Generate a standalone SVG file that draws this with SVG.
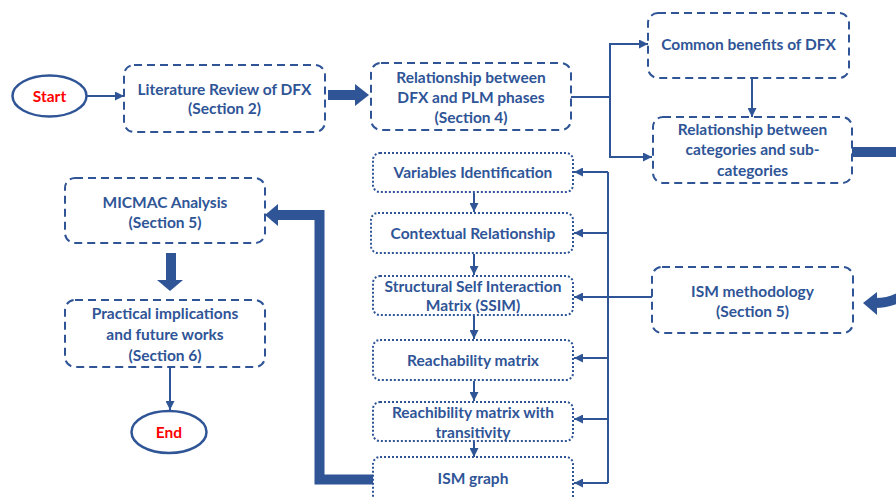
<svg xmlns="http://www.w3.org/2000/svg" width="896" height="497" viewBox="0 0 896 497">
<style>
.dash{fill:#fff;stroke:#2F5597;stroke-width:2;stroke-dasharray:8 5}
.dot{fill:#fff;stroke:#2F5597;stroke-width:2;stroke-dasharray:2 2}
.oval{fill:#fff;stroke:#2F5597;stroke-width:2.5}
.t{font-family:Lato,"Liberation Sans",sans-serif;font-weight:bold;font-size:15.5px;fill:#2F5597;text-anchor:middle}
.r{fill:#FF0000}
.ln{fill:none;stroke:#2F5597;stroke-width:2}
.thick{fill:none;stroke:#2F5597;stroke-width:10}
.head{fill:#2F5597}
</style>
<defs>
<marker id="ah" markerUnits="userSpaceOnUse" markerWidth="9" markerHeight="9" refX="9" refY="4.5" orient="auto">
<path d="M0,0 L9,4.5 L0,9 z" fill="#2F5597"/>
</marker>
</defs>

<g id="connectors">
<line class="ln" x1="87" y1="96" x2="124" y2="96" marker-end="url(#ah)"/>
<path class="thick" d="M328,95 H356"/>
<polygon class="head" points="369,95 355,84 355,106"/>
<path class="ln" d="M571,97 H610 M610,44 V157"/>
<line class="ln" x1="609" y1="44" x2="648" y2="44" marker-end="url(#ah)"/>
<line class="ln" x1="609" y1="157" x2="652" y2="157" marker-end="url(#ah)"/>
<line class="ln" x1="752" y1="78" x2="752" y2="117" marker-end="url(#ah)"/>
<path class="thick" d="M852,152 H896"/>
<path class="thick" d="M875,303 C884,303 891,302 900,297"/>
<polygon class="head" points="863,303 877,292 877,315"/>
<path class="ln" d="M652,297 H608 M608,172 V483"/>
<line class="ln" x1="608" y1="172" x2="574" y2="172" marker-end="url(#ah)"/>
<line class="ln" x1="608" y1="233" x2="574" y2="233" marker-end="url(#ah)"/>
<line class="ln" x1="608" y1="297" x2="574" y2="297" marker-end="url(#ah)"/>
<line class="ln" x1="608" y1="358" x2="574" y2="358" marker-end="url(#ah)"/>
<line class="ln" x1="608" y1="419" x2="574" y2="419" marker-end="url(#ah)"/>
<line class="ln" x1="608" y1="483" x2="574" y2="483" marker-end="url(#ah)"/>
<line class="ln" x1="474" y1="193" x2="474" y2="212" marker-end="url(#ah)"/>
<line class="ln" x1="474" y1="254" x2="474" y2="275" marker-end="url(#ah)"/>
<line class="ln" x1="474" y1="316" x2="474" y2="339" marker-end="url(#ah)"/>
<line class="ln" x1="474" y1="381" x2="474" y2="401" marker-end="url(#ah)"/>
<line class="ln" x1="474" y1="442" x2="474" y2="457" marker-end="url(#ah)"/>
<path class="thick" d="M373,479.5 H319.5 V215 H277" style="stroke-linejoin:miter"/>
<polygon class="head" points="265,215 278,204 278,226"/>
<path class="thick" d="M171,253 V281"/>
<polygon class="head" points="157,280 183,280 170,291"/>
<line class="ln" x1="170" y1="368" x2="170" y2="410" marker-end="url(#ah)"/>
</g>

<g id="start">
<ellipse class="oval" cx="49.5" cy="96" rx="37" ry="20.5"/>
<text class="t r" x="49.5" y="101.5">Start</text>
</g>

<g id="lit-review">
<rect class="dash" x="124" y="65" width="201" height="67" rx="10"/>
<text class="t" x="224.5" y="95">Literature Review of DFX</text>
<text class="t" x="224.5" y="114">(Section 2)</text>
</g>

<g id="dfx-plm">
<rect class="dash" x="371" y="63" width="200" height="67" rx="10"/>
<text class="t" x="471" y="83">Relationship between</text>
<text class="t" x="471" y="103">DFX and PLM phases</text>
<text class="t" x="471" y="123">(Section 4)</text>
</g>

<g id="common-benefits">
<rect class="dash" x="648" y="13" width="201" height="65" rx="10"/>
<text class="t" x="748.5" y="50">Common benefits of DFX</text>
</g>

<g id="categories">
<rect class="dash" x="653" y="117" width="199" height="66" rx="10"/>
<text class="t" x="752.5" y="135">Relationship between</text>
<text class="t" x="752.5" y="155">categories and sub-</text>
<text class="t" x="752.5" y="176">categories</text>
</g>

<g id="ism-methodology">
<rect class="dash" x="652" y="267" width="201" height="66" rx="10"/>
<text class="t" x="752.5" y="297">ISM methodology</text>
<text class="t" x="752.5" y="317">(Section 5)</text>
</g>

<g id="variables">
<rect class="dot" x="373" y="153" width="200" height="39" rx="7"/>
<text class="t" x="473" y="178">Variables Identification</text>
</g>

<g id="contextual">
<rect class="dot" x="371" y="213" width="202" height="40" rx="7"/>
<text class="t" x="473" y="239">Contextual Relationship</text>
</g>

<g id="ssim">
<rect class="dot" x="373" y="276" width="200" height="39" rx="7"/>
<text class="t" x="473" y="292">Structural Self Interaction</text>
<text class="t" x="473" y="311">Matrix (SSIM)</text>
</g>

<g id="reachability">
<rect class="dot" x="373" y="340" width="200" height="40" rx="7"/>
<text class="t" x="473" y="366">Reachability matrix</text>
</g>

<g id="transitivity">
<rect class="dot" x="373" y="402" width="200" height="39" rx="7"/>
<text class="t" x="473" y="418">Reachibility matrix with</text>
<text class="t" x="473" y="438">transitivity</text>
</g>

<g id="ism-graph">
<rect class="dot" x="373" y="457" width="200" height="50" rx="7"/>
<text class="t" x="473" y="484">ISM graph</text>
</g>

<g id="micmac">
<rect class="dash" x="65" y="178" width="200" height="65" rx="10"/>
<text class="t" x="165" y="208">MICMAC Analysis</text>
<text class="t" x="165" y="228">(Section 5)</text>
</g>

<g id="practical">
<rect class="dash" x="65" y="300" width="200" height="67" rx="10"/>
<text class="t" x="165" y="319">Practical implications</text>
<text class="t" x="165" y="340">and future works</text>
<text class="t" x="165" y="361">(Section 6)</text>
</g>

<g id="end">
<ellipse class="oval" cx="169" cy="432" rx="37.5" ry="21"/>
<text class="t r" x="169" y="437.5">End</text>
</g>
</svg>
